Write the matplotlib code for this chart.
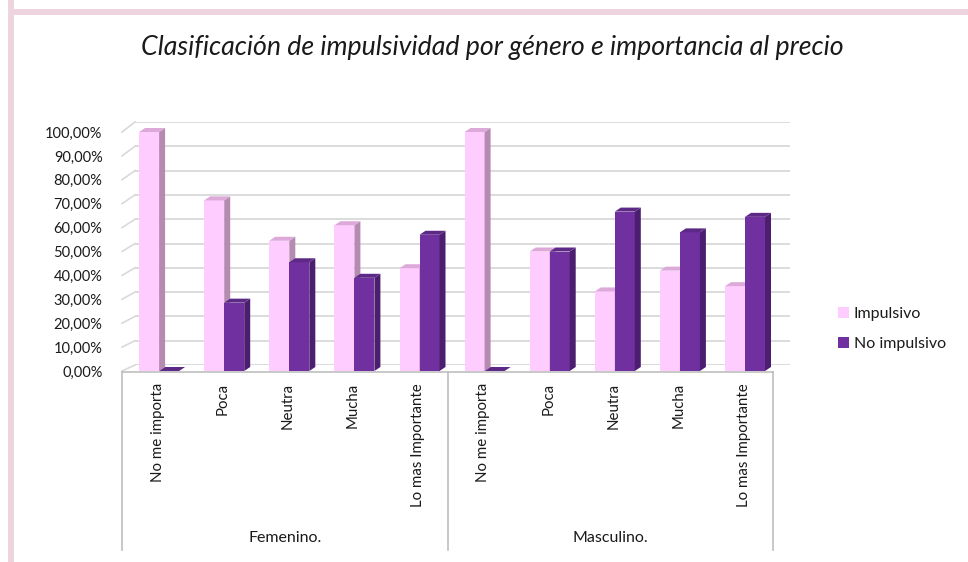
import matplotlib
matplotlib.use("Agg")
import matplotlib.pyplot as plt
from matplotlib.patches import Polygon, Rectangle, Patch
from matplotlib.lines import Line2D
import numpy as np

# ---------------- data ----------------
title = "Clasificación de impulsividad por género e importancia al precio"
groups = ["Femenino.", "Masculino."]
subcats = ["No me importa", "Poca", "Neutra", "Mucha", "Lo mas Importante"]
series_names = ["Impulsivo", "No impulsivo"]
impulsivo = [100.0, 71.4, 54.5, 61.0, 43.0, 100.0, 50.0, 33.3, 42.0, 35.5]
no_impulsivo = [0.0, 28.6, 45.5, 39.0, 57.0, 0.0, 50.0, 66.7, 58.0, 64.5]
yticks = [0, 10, 20, 30, 40, 50, 60, 70, 80, 90, 100]
ytick_labels = ["0,00%", "10,00%", "20,00%", "30,00%", "40,00%", "50,00%",
                "60,00%", "70,00%", "80,00%", "90,00%", "100,00%"]

# ---------------- style ----------------
FONT = "Lato"
W, H = 968, 562
pink = dict(front="#FFCCFF", side="#B58BB1", top="#DCA9D8")
purple = dict(front="#7030A0", side="#4C1E70", top="#5D2987")
grid_c = "#D9D9D9"
box_c = "#BFBFBF"
txt_c = "#1A1A1A"

fig = plt.figure(figsize=(W / 100, H / 100), dpi=100)
fig.patch.set_facecolor("white")


def fx(x):
    return x / W


def fy(y):
    return 1 - y / H


# chart border (pink strip top & left)
fig.patches.append(Rectangle((fx(8), fy(562)), fx(6), 1, transform=fig.transFigure,
                             facecolor="#EDD4DF", edgecolor="none"))
fig.patches.append(Rectangle((fx(8), fy(15)), 1, fy(9) - fy(15), transform=fig.transFigure,
                             facecolor="#EDD4DF", edgecolor="none"))

# back wall axes (gridlines)
bl, br, bb, bt = 135, 790, 365, 122
axb = fig.add_axes([fx(bl), fy(bb), fx(br - bl), fy(bt) - fy(bb)])
axb.set_ylim(0, 100)
axb.set_xlim(0, 1)
axb.set_yticks(yticks)
axb.set_xticks([])
axb.tick_params(left=False, labelleft=False)
axb.grid(axis="y", color=grid_c, lw=1.3)
for s in axb.spines.values():
    s.set_visible(False)
axb.patch.set_visible(False)
axb.set_zorder(0)

# front axes (bars + tick labels)
fl, fr, fb, ft = 122, 773, 371, 132
ax = fig.add_axes([fx(fl), fy(fb), fx(fr - fl), fy(ft) - fy(fb)])
ax.set_zorder(1)
ax.patch.set_visible(False)
n = len(impulsivo)
ax.set_xlim(-0.5, n - 0.5)
ax.set_ylim(0, 100)
ax.set_yticks(yticks)
ax.set_yticklabels(ytick_labels, fontsize=10.5, color=txt_c, family=FONT)
ax.tick_params(axis="y", length=0, pad=14)
ax.set_xticks([])
for s in ax.spines.values():
    s.set_visible(False)

# depth in data units
px_x = (fr - fl) / n          # pixels per category
px_y = (fb - ft) / 100.0      # pixels per percent
ddx = 6 / px_x
ddy = 4 / px_y
bw = 20 / px_x
shift = 0.07
x = np.arange(n)


def draw_series(xs, vals, col, z):
    ax.bar(xs, vals, width=bw, align="edge", color=col["front"], edgecolor="none",
           zorder=z, clip_on=False)
    for xi, v in zip(xs, vals):
        side = Polygon([(xi + bw, 0), (xi + bw + ddx, ddy), (xi + bw + ddx, v + ddy), (xi + bw, v)],
                       closed=True, facecolor=col["side"], edgecolor="none", zorder=z, clip_on=False)
        top = Polygon([(xi, v), (xi + ddx, v + ddy), (xi + bw + ddx, v + ddy), (xi + bw, v)],
                      closed=True, facecolor=col["top"], edgecolor="none", zorder=z, clip_on=False)
        ax.add_patch(side)
        ax.add_patch(top)


draw_series(x + shift - bw, impulsivo, pink, 2)
draw_series(x + shift, no_impulsivo, purple, 3)

# left wall diagonal ticks
fig.canvas.draw()
inv = fig.transFigure.inverted()
for v in yticks:
    p0 = inv.transform(ax.transData.transform((-0.5, v)))
    p1 = inv.transform(axb.transData.transform((0, v)))
    fig.add_artist(Line2D([p0[0], p1[0]], [p0[1], p1[1]], transform=fig.transFigure,
                          color=grid_c, lw=1.2))

# category box
box_top, box_bot = 372, 550
fig.add_artist(Line2D([fx(fl), fx(fr)], [fy(box_top), fy(box_top)], transform=fig.transFigure,
                      color=box_c, lw=1.2))
mid = (fl + fr) / 2
for xv in [fl, mid, fr]:
    fig.add_artist(Line2D([fx(xv), fx(xv)], [fy(box_top), fy(box_bot)], transform=fig.transFigure,
                          color=box_c, lw=1.2))

# category labels
cat_labels = subcats * len(groups)
for i, lab in enumerate(cat_labels):
    xd = i + 0.05
    xp = ax.transData.transform((xd, 0))[0]
    fig.text(xp / W, fy(383), lab, rotation=90, ha="center", va="top",
             fontsize=10.8, color=txt_c, family=FONT)

# group labels
for g, lab in enumerate(groups):
    cx = fl + (fr - fl) / 2 * (g + 0.5)
    fig.text(fx(cx), fy(538), lab, ha="center", va="center", fontsize=11.5,
             color=txt_c, family=FONT)

# title
fig.text(fx(492), fy(47), title, ha="center", va="center", fontsize=19.3,
         style="italic", color=txt_c, family=FONT)

# legend
handles = [Patch(facecolor=pink["front"], edgecolor="none"),
           Patch(facecolor=purple["front"], edgecolor="none")]
fig.legend(handles, series_names, loc="center left",
           bbox_to_anchor=(fx(838), fy(329)), frameon=False,
           handlelength=0.7, handleheight=0.7, handletextpad=0.3,
           labelspacing=1.0, borderpad=0, borderaxespad=0,
           prop={"family": FONT, "size": 11.5})
for t in fig.legends[0].get_texts():
    t.set_color(txt_c)

fig.savefig("out.png", dpi=100)
